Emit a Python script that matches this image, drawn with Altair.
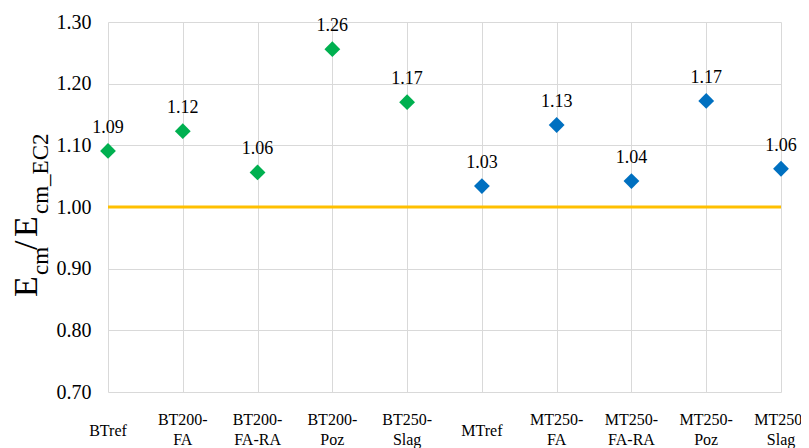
import altair as alt
import pandas as pd

categories = ["BTref", "BT200-FA", "BT200-FA-RA", "BT200-Poz", "BT250-Slag",
              "MTref", "MT250-FA", "MT250-FA-RA", "MT250-Poz", "MT250-Slag"]
ratios = [1.091, 1.123, 1.056, 1.256, 1.170, 1.034, 1.133, 1.042, 1.172, 1.062]
series = ["BT", "BT", "BT", "BT", "BT", "MT", "MT", "MT", "MT", "MT"]
series_colors = {"BT": "#00B050", "MT": "#0070C0"}
ref_value = [1.0]
y_ticks = [0.7, 0.8, 0.9, 1.0, 1.1, 1.2, 1.3]

df = pd.DataFrame({"cat": categories, "ratio": ratios, "series": series})
ref_df = pd.DataFrame({"ref": ref_value})

FONT = "Liberation Serif"

x_scale = alt.Scale(type="point", padding=0)
x_enc = alt.X(
    "cat:N", sort=categories, scale=x_scale,
    axis=alt.Axis(title=None, ticks=False, domain=False, grid=True,
                  gridColor="#d9d9d9", labels=False),
)
y_enc = alt.Y(
    "ratio:Q",
    scale=alt.Scale(domain=[0.7, 1.3], nice=False, zero=False),
    axis=alt.Axis(
        title=None, values=y_ticks, format=".2f", ticks=False, domain=False,
        grid=True, gridColor="#d9d9d9", labelFont=FONT, labelFontSize=20,
        labelColor="#000000", labelPadding=17,
    ),
)

points = alt.Chart(df).mark_point(shape="diamond", filled=True, size=250, opacity=1).encode(
    x=x_enc, y=y_enc,
    color=alt.Color("series:N", scale=alt.Scale(domain=list(series_colors.keys()),
                                                range=list(series_colors.values())), legend=None),
)

labels = alt.Chart(df).mark_text(font=FONT, fontSize=18, dy=-18, baseline="alphabetic",
                                 color="#000000").encode(
    x=alt.X("cat:N", sort=categories), y="ratio:Q",
    text=alt.Text("ratio:Q", format=".2f"),
)

ref = alt.Chart(ref_df).mark_rule(color="#FFC000", strokeWidth=3).encode(y="ref:Q")

# category labels below the plot (two-line ones split after the first hyphen)
xlab_two = alt.Chart(df).transform_filter(
    "indexof(datum.cat, '-') >= 0"
).transform_calculate(
    lab="[substring(datum.cat, 0, indexof(datum.cat, '-') + 1), substring(datum.cat, indexof(datum.cat, '-') + 1)]"
).mark_text(font=FONT, fontSize=16, baseline="middle", lineHeight=20, color="#000000").encode(
    x=alt.X("cat:N", sort=categories), y=alt.value(398), text="lab:N",
)
xlab_one = alt.Chart(df).transform_filter(
    "indexof(datum.cat, '-') < 0"
).mark_text(font=FONT, fontSize=16, baseline="middle", color="#000000").encode(
    x=alt.X("cat:N", sort=categories), y=alt.value(409), text="cat:N",
)

# Y axis title with subscripts, built from text pieces
title_parts = [
    ("E", 34, 29, 297),
    ("cm", 23, 40, 275),
    ("/", 34, 29, 250),
    ("E", 34, 29, 237),
    ("cm_EC2", 23, 40, 214),
]
title_layers = []
for txt, fs, xpix, ypix in title_parts:
    title_layers.append(
        alt.Chart(pd.DataFrame({"t": [txt]})).mark_text(
            font=FONT, fontSize=fs, angle=270, align="left", baseline="alphabetic",
            color="#000000",
        ).encode(text="t:N", x=alt.value(xpix - 100), y=alt.value(ypix - 22))
    )

chart = alt.layer(ref, points, labels, xlab_two, xlab_one, *title_layers).properties(
    width=673, height=370,
    padding={"left": 100, "top": 14, "right": 20, "bottom": 58},
    autosize=alt.AutoSizeParams(type="none"),
    background="#ffffff",
).configure_view(stroke=None)

chart.save("out.html", embed_options={"renderer": "svg", "actions": False})
